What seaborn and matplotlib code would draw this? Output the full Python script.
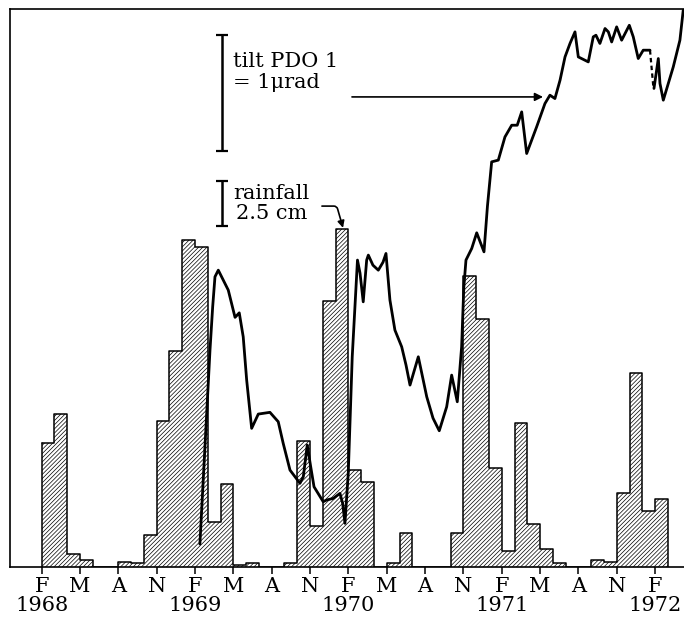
import numpy as np
import pandas as pd
import matplotlib
matplotlib.use("Agg")
import matplotlib.pyplot as plt
import seaborn as sns

# ---- data -------------------------------------------------------------
# monthly rainfall (cm), month index 0 = Feb 1968 ... 48 = Feb 1972
rain_cm = [6.9, 8.5, 0.7, 0.4, 0, 0, 0.3, 0.2, 1.8, 8.1, 12.0, 18.2,
           17.8, 2.5, 4.6, 0.1, 0.2, 0, 0, 0.2, 7.0, 2.3, 14.8, 18.8,
           5.4, 4.7, 0, 0.2, 1.9, 0, 0, 0, 1.9, 16.2, 13.8, 5.5,
           0.9, 8.0, 2.4, 1.0, 0.2, 0, 0, 0.4, 0.3, 4.1, 10.8, 3.1,
           3.8]
month_idx = list(range(len(rain_cm)))

# tilt PDO 1 (microradians, arbitrary zero), x in months since Feb 1968
tilt_month = [12.38, 13.17, 13.38, 13.56, 13.82, 14.60, 15.13, 15.46, 15.77,
              16.04, 16.43, 16.95, 17.86, 18.51, 18.90, 19.43, 20.21, 20.47,
              20.78, 21.05, 21.31, 22.03, 22.30, 22.82, 23.34, 23.55, 23.73,
              23.99, 24.30, 24.71, 24.91, 25.16, 25.43, 25.56, 25.92, 26.34,
              26.71, 26.94, 27.25, 27.64, 28.17, 28.51, 28.82, 29.47, 30.13,
              30.62, 31.11, 31.69, 32.08, 32.52, 32.86, 33.03, 33.20, 33.65,
              34.04, 34.61, 34.88, 35.21, 35.73, 36.25, 36.78, 37.21, 37.56,
              37.95, 38.73, 39.38, 39.77, 40.16, 40.56, 40.95, 41.34, 41.73,
              41.99, 42.77, 43.16, 43.37, 43.68, 44.08, 44.34, 44.60, 44.99,
              45.38, 45.98, 46.29, 46.68, 47.07, 47.60]
tilt_urad = [0.198, 1.871, 2.244, 2.503, 2.560, 2.388, 2.153, 2.192, 1.985,
             1.612, 1.196, 1.319, 1.334, 1.253, 1.066, 0.836, 0.722, 0.778,
             1.052, 0.865, 0.692, 0.563, 0.578, 0.592, 0.635, 0.549, 0.377,
             0.810, 1.813, 2.647, 2.534, 2.287, 2.647, 2.690, 2.603, 2.560,
             2.629, 2.704, 2.302, 2.043, 1.899, 1.741, 1.569, 1.813, 1.468,
             1.284, 1.175, 1.382, 1.655, 1.425, 1.899, 2.410, 2.647, 2.747,
             2.882, 2.718, 3.112, 3.494, 3.509, 3.709, 3.810, 3.810, 3.925,
             3.566, 3.796, 3.997, 4.069, 4.040, 4.198, 4.399, 4.515, 4.615,
             4.399, 4.356, 4.572, 4.586, 4.515, 4.644, 4.615, 4.528, 4.658,
             4.543, 4.672, 4.572, 4.385, 4.457, 4.457]
# dashed gap in the tilt record
gap_month = [47.60, 47.86]
gap_urad = [4.457, 4.141]
# record after the gap
tail_month = [47.91, 48.25, 48.38, 48.64, 49.42, 49.94, 50.20]
tail_urad = [4.127, 4.385, 4.170, 4.026, 4.313, 4.543, 4.802]

tick_months = list(range(0, 49, 3))
season_letters = ["F", "M", "A", "N"]
years = ["1968", "1969", "1970", "1971", "1972"]

# ---- style ------------------------------------------------------------
sns.set_theme(style="white")
plt.rcParams["font.family"] = ["DejaVu Serif", "DejaVu Sans"]
plt.rcParams["hatch.linewidth"] = 0.5
plt.rcParams["hatch.color"] = "black"
plt.rcParams["text.color"] = "black"
plt.rcParams["xtick.color"] = "black"
plt.rcParams["xtick.labelcolor"] = "black"

fig = plt.figure(figsize=(6.84, 6.17), dpi=100)
ax = fig.add_axes([0.0146, 0.081, 0.9854, 0.904])

# hatched monthly bars without internal separators ...
df = pd.DataFrame({"month": [m + 0.5 for m in month_idx], "rain": rain_cm})
sns.barplot(data=df, x="month", y="rain", native_scale=True, width=1.0,
            color="white", edgecolor="black", linewidth=0,
            hatch="////////", errorbar=None, ax=ax)
for p in ax.patches:
    p.set_facecolor("white")
    p.set_linewidth(0)
# ... and a stepped outline over them
step_x = month_idx + [len(rain_cm)]
step_y = rain_cm + [0]
ax.plot([0, 0], [0, rain_cm[0]], color="black", lw=1.1)
ax.step(step_x, step_y, where="post", color="black", lw=1.1)

ax.set_xlim(-2.48, 50.26)
ax.set_ylim(0, 31.0)
ax.set_xlabel("")
ax.set_ylabel("")
ax.set_yticks([])

labels = []
for i, m in enumerate(tick_months):
    s = season_letters[i % 4]
    if i % 4 == 0:
        s = s + "\n" + years[i // 4]
    labels.append(s)
ax.set_xticks(tick_months)
ax.set_xticklabels(labels, fontsize=15, linespacing=1.0, color="black")
ax.tick_params(axis="x", direction="out", length=5, width=1.1, pad=2,
               color="black", bottom=True)

for side in ["left", "top", "bottom"]:
    ax.spines[side].set_visible(True)
    ax.spines[side].set_color("black")
    ax.spines[side].set_linewidth(1.2)
ax.spines["right"].set_visible(False)

# tilt on a twin axis
ax2 = ax.twinx()
ax2.set_ylim(0, 4.81)
sns.lineplot(x=tilt_month, y=tilt_urad, sort=False, estimator=None,
             color="black", linewidth=2.0, ax=ax2)
sns.lineplot(x=gap_month, y=gap_urad, sort=False, estimator=None,
             color="black", linewidth=1.6, linestyle=(0, (2, 1.5)), ax=ax2)
sns.lineplot(x=tail_month, y=tail_urad, sort=False, estimator=None,
             color="black", linewidth=2.0, ax=ax2)
ax2.set_yticks([])
ax2.set_ylabel("")
for s in ax2.spines.values():
    s.set_visible(False)

# scale bars
bar_x = 14.08
ax2.errorbar([bar_x], [4.086], yerr=[0.5], color="black", capsize=4,
             elinewidth=1.8, capthick=1.6)
ax.errorbar([bar_x], [20.19], yerr=[1.25], color="black", capsize=4,
            elinewidth=1.8, capthick=1.6)

ax2.text(14.95, 4.27, "tilt PDO 1\n= 1\u03bcrad", fontsize=15, ha="left",
         va="center", linespacing=1.1, color="black")
ax.text(18.0, 20.2, "rainfall\n2.5 cm", fontsize=15, ha="center",
        va="center", linespacing=1.05, color="black")

# arrows
ax2.annotate("", xy=(39.23, 4.054), xytext=(24.28, 4.054),
             arrowprops=dict(arrowstyle="-|>", color="black", lw=1.2,
                             mutation_scale=12, shrinkA=0, shrinkB=0))
ax.annotate("", xy=(23.58, rain_cm[23] + 0.05), xytext=(21.93, 20.06),
            arrowprops=dict(arrowstyle="-|>", color="black", lw=1.2,
                            mutation_scale=10, shrinkA=0, shrinkB=0,
                            connectionstyle="angle,angleA=0,angleB=106,rad=3"))

fig.savefig("out.png", dpi=100)
